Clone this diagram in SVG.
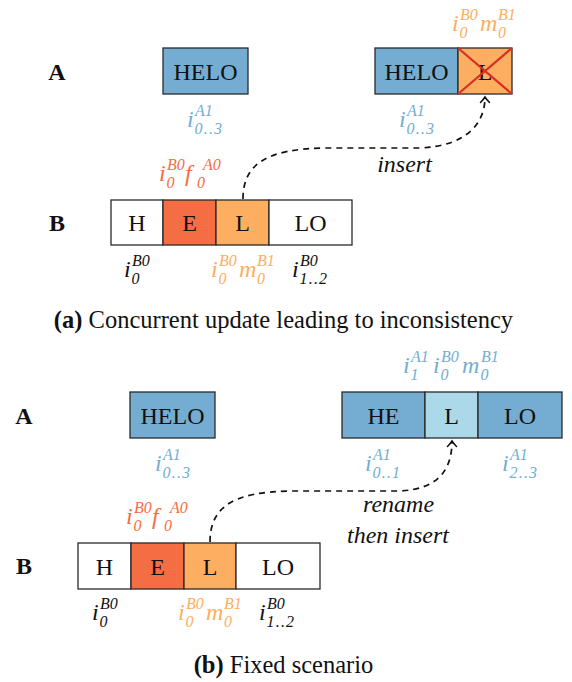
<svg xmlns="http://www.w3.org/2000/svg" width="572" height="682" viewBox="0 0 572 682">
<style>
text{font-family:"Liberation Serif","DejaVu Serif",serif;fill:#111}
.t{font-size:24px;text-anchor:middle}
.lab{font-size:24px;font-weight:bold;text-anchor:middle}
.mi{font-size:24px;font-style:italic}
.sc{font-size:16px;font-style:italic}
.rg{letter-spacing:1.2px}
.it{font-size:24px;font-style:italic;text-anchor:middle}
.cap{font-size:24.5px;text-anchor:middle}
.blue text{fill:#74add1}
.orange text{fill:#fdae61}
.red text{fill:#f46d43}
.box{stroke:#2a2a2a;stroke-width:1.3}
.cb{fill:#74add1}
.clb{fill:#abd9e9}
.co{fill:#fdae61}
.cr{fill:#f46d43}
.cw{fill:#ffffff}
.conn path{fill:none;stroke:#111;stroke-width:1.7;stroke-dasharray:6,5}
</style>
<defs>
<marker id="ah" viewBox="-7 -6 9 12" markerWidth="9" markerHeight="12" refX="0" refY="0" orient="auto" markerUnits="userSpaceOnUse">
<path d="M-5.5,-4.5 Q-2,-1.2 0,0 Q-2,1.2 -5.5,4.5" fill="none" stroke="#111" stroke-width="1.5" stroke-linecap="round"/>
</marker>
</defs>

<!-- (a) -->
<g id="a-labelA"><text class="lab" x="57" y="80">A</text></g>
<g id="a-labelB"><text class="lab" x="57" y="231">B</text></g>

<g id="a-A1">
<rect class="box cb" x="163" y="48" width="85" height="46"/>
<text class="t" x="205.5" y="80">HELO</text>
</g>
<g id="a-A1-label" class="blue" transform="translate(187,127)">
<text class="mi" x="0" y="0">i</text><text class="sc" x="8" y="-11">A1</text><text class="sc rg" x="7.5" y="7">0..3</text>
</g>

<g id="a-A2">
<rect class="box cb" x="375" y="48" width="83" height="46"/>
<rect class="box co" x="458" y="48" width="54" height="46"/>
<text class="t" x="416.5" y="80">HELO</text>
<text class="t" x="485" y="80">L</text>
<line x1="458" y1="48" x2="512" y2="94" stroke="#d73027" stroke-width="2.2"/>
<line x1="512" y1="48" x2="458" y2="94" stroke="#d73027" stroke-width="2.2"/>
</g>
<g id="a-A2-label" class="blue" transform="translate(399,127)">
<text class="mi" x="0" y="0">i</text><text class="sc" x="8" y="-11">A1</text><text class="sc rg" x="7.5" y="7">0..3</text>
</g>
<g id="a-A2-top" class="orange" transform="translate(452,31)">
<text class="mi" x="0" y="0">i</text><text class="sc" x="8" y="-11">B0</text><text class="sc" x="7.5" y="7">0</text>
<text class="mi" x="28" y="0">m</text><text class="sc" x="46" y="-11">B1</text><text class="sc" x="46" y="7">0</text>
</g>

<g id="a-B">
<rect class="box cw" x="111" y="200" width="52" height="45"/>
<rect class="box cr" x="163" y="200" width="53" height="45"/>
<rect class="box co" x="216" y="200" width="53" height="45"/>
<rect class="box cw" x="269" y="200" width="83" height="45"/>
<text class="t" x="137" y="231">H</text>
<text class="t" x="189.5" y="231">E</text>
<text class="t" x="242.5" y="231">L</text>
<text class="t" x="310.5" y="231">LO</text>
</g>
<g id="a-B-top" class="red" transform="translate(159,181)">
<text class="mi" x="0" y="0">i</text><text class="sc" x="8" y="-11">B0</text><text class="sc" x="7.5" y="7">0</text>
<text class="mi" x="26" y="0">f</text><text class="sc" x="44" y="-11">A0</text><text class="sc" x="38" y="7">0</text>
</g>
<g id="a-B-l1" transform="translate(124,277)">
<text class="mi" x="0" y="0">i</text><text class="sc" x="8" y="-11">B0</text><text class="sc" x="7.5" y="7">0</text>
</g>
<g id="a-B-l2" class="orange" transform="translate(211,277)">
<text class="mi" x="0" y="0">i</text><text class="sc" x="8" y="-11">B0</text><text class="sc" x="7.5" y="7">0</text>
<text class="mi" x="28" y="0">m</text><text class="sc" x="46" y="-11">B1</text><text class="sc" x="46" y="7">0</text>
</g>
<g id="a-B-l3" transform="translate(292,277)">
<text class="mi" x="0" y="0">i</text><text class="sc" x="8" y="-11">B0</text><text class="sc rg" x="7.5" y="7">1..2</text>
</g>

<g id="a-caption"><text class="cap" x="283.5" y="328"><tspan font-weight="bold">(a)</tspan> Concurrent update leading to inconsistency</text></g>

<!-- (b) -->
<g id="b-labelA"><text class="lab" x="24" y="424">A</text></g>
<g id="b-labelB"><text class="lab" x="24" y="574">B</text></g>

<g id="b-A1">
<rect class="box cb" x="130" y="392" width="85" height="46"/>
<text class="t" x="172.5" y="424">HELO</text>
</g>
<g id="b-A1-label" class="blue" transform="translate(155,471)">
<text class="mi" x="0" y="0">i</text><text class="sc" x="8" y="-11">A1</text><text class="sc rg" x="7.5" y="7">0..3</text>
</g>

<g id="b-A2">
<rect class="box cb" x="342" y="392" width="83" height="46"/>
<rect class="box clb" x="425" y="392" width="53" height="46"/>
<rect class="box cb" x="478" y="392" width="84" height="46"/>
<text class="t" x="383.5" y="424">HE</text>
<text class="t" x="451.5" y="424">L</text>
<text class="t" x="520" y="424">LO</text>
</g>
<g id="b-A2-top" class="blue" transform="translate(403,373)">
<text class="mi" x="0" y="0">i</text><text class="sc" x="8" y="-11">A1</text><text class="sc" x="7.5" y="7">1</text>
<text class="mi" x="30" y="0">i</text><text class="sc" x="38" y="-11">B0</text><text class="sc" x="37.5" y="7">0</text>
<text class="mi" x="59" y="0">m</text><text class="sc" x="78" y="-11">B1</text><text class="sc" x="77.5" y="7">0</text>
</g>
<g id="b-A2-l1" class="blue" transform="translate(365,471)">
<text class="mi" x="0" y="0">i</text><text class="sc" x="8" y="-11">A1</text><text class="sc rg" x="7.5" y="7">0..1</text>
</g>
<g id="b-A2-l2" class="blue" transform="translate(502,471)">
<text class="mi" x="0" y="0">i</text><text class="sc" x="8" y="-11">A1</text><text class="sc rg" x="7.5" y="7">2..3</text>
</g>

<g id="b-B">
<rect class="box cw" x="78" y="543" width="53" height="46"/>
<rect class="box cr" x="131" y="543" width="53" height="46"/>
<rect class="box co" x="184" y="543" width="52" height="46"/>
<rect class="box cw" x="236" y="543" width="84" height="46"/>
<text class="t" x="104.5" y="575">H</text>
<text class="t" x="157.5" y="575">E</text>
<text class="t" x="210" y="575">L</text>
<text class="t" x="278" y="575">LO</text>
</g>
<g id="b-B-top" class="red" transform="translate(126,524)">
<text class="mi" x="0" y="0">i</text><text class="sc" x="8" y="-11">B0</text><text class="sc" x="7.5" y="7">0</text>
<text class="mi" x="26" y="0">f</text><text class="sc" x="44" y="-11">A0</text><text class="sc" x="38" y="7">0</text>
</g>
<g id="b-B-l1" transform="translate(92,620)">
<text class="mi" x="0" y="0">i</text><text class="sc" x="8" y="-11">B0</text><text class="sc" x="7.5" y="7">0</text>
</g>
<g id="b-B-l2" class="orange" transform="translate(178,620)">
<text class="mi" x="0" y="0">i</text><text class="sc" x="8" y="-11">B0</text><text class="sc" x="7.5" y="7">0</text>
<text class="mi" x="28" y="0">m</text><text class="sc" x="46" y="-11">B1</text><text class="sc" x="46" y="7">0</text>
</g>
<g id="b-B-l3" transform="translate(259,620)">
<text class="mi" x="0" y="0">i</text><text class="sc" x="8" y="-11">B0</text><text class="sc rg" x="7.5" y="7">1..2</text>
</g>

<g id="b-caption"><text class="cap" x="283.5" y="673"><tspan font-weight="bold">(b)</tspan> Fixed scenario</text></g>

<!-- connectors -->
<g id="connectors" class="conn">
<path d="M243,199 C243,163 268,149 325,148 L420,148 C466,146 485,124 485,97" marker-end="url(#ah)"/>
<path d="M210,542 C210,505 236,492 290,491 L400,491 C440,489 452,468 452,441" marker-end="url(#ah)"/>
</g>
<g id="conn-labels">
<text class="it" x="404.5" y="172">insert</text>
<text class="it" x="398.5" y="512">rename</text>
<text class="it" x="398" y="543">then insert</text>
</g>
</svg>
